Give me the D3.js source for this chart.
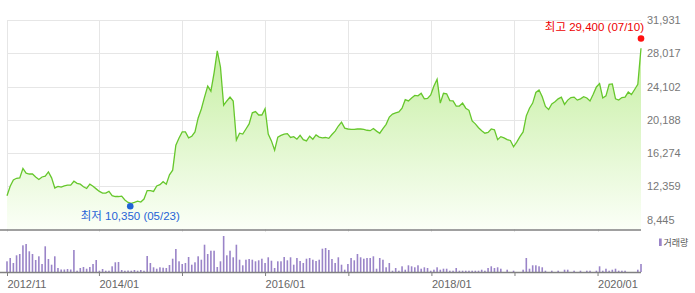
<!DOCTYPE html>
<html>
<head>
<meta charset="utf-8">
<script src="https://cdn.jsdelivr.net/npm/d3@7"></script>
<style>
  body { margin: 0; background: #fff; }
  text { font-family: "Liberation Sans", Arial, "Noto Sans CJK KR", sans-serif; }
</style>
</head>
<body>
<div class="stockChart"></div>
<script>
// Price (close) every two weeks, oldest first, last point 2020-07-10
const priceValues = [
    11250, 12350, 13100, 13300, 13350, 14450, 13900, 13800, 13800, 13450,
    13150, 13450, 13550, 14050, 13350, 12150, 12350, 12250, 12400, 12500,
    12500, 12950, 12700, 12600, 12300, 12100, 12600, 12350, 12050, 11750,
    11550, 11550, 11750, 11250, 11150, 11150, 11200, 10750, 10450, 10350,
    10450, 10600, 10500, 10850, 11850, 11850, 11750, 12400, 12550, 12900,
    12600, 13700, 14250, 17200, 18050, 18750, 18750, 18050, 18250, 18750,
    20400, 21450, 22850, 24150, 23550, 25700, 28300, 26400, 21900, 22400,
    22850, 22400, 17800, 18600, 18500, 19100, 19700, 21000, 21150, 20750,
    20750, 21500, 18500, 17700, 16600, 18150, 18350, 18500, 18550, 18100,
    18200, 17900, 18350, 17850, 17700, 18250, 17900, 18400, 18150, 18050,
    18100, 18000, 18450, 18850, 19450, 19900, 19200, 19100, 19050, 19050,
    19100, 19100, 19050, 18950, 18900, 19150, 18850, 18600, 19150, 19650,
    20500, 20850, 21000, 21100, 21550, 22550, 22400, 22750, 23050, 23000,
    23300, 22650, 22700, 23100, 24150, 24950, 22150, 23300, 23250, 22450,
    22400, 21800, 21800, 22150, 21550, 21300, 20050, 19700, 19250, 18900,
    18600, 18700, 19100, 19000, 17850, 18200, 18050, 17850, 17750, 17000,
    17550, 18200, 18750, 20650, 21550, 22150, 23400, 23700, 22900, 21750,
    21400, 22050, 22300, 22650, 22850, 22000, 22500, 22800, 22850, 22500,
    22650, 22900, 22750, 22400, 23200, 24050, 24450, 22750, 23000, 24350,
    24400, 22650, 22500, 22800, 22850, 23450, 23150, 23750, 24350, 28600
];

// Traded volume (relative units) on the same dates
const volumeValues = [
    107, 140, 90, 167, 180, 267, 280, 207, 180, 120,
    157, 80, 257, 130, 73, 157, 40, 25, 25, 30,
    25, 220, 13, 40, 50, 33, 50, 80, 120, 13,
    30, 13, 13, 57, 97, 100, 20, 13, 15, 13,
    20, 13, 20, 13, 160, 90, 47, 33, 47, 43,
    40, 70, 133, 230, 107, 80, 90, 150, 73, 97,
    157, 123, 273, 180, 213, 213, 50, 107, 360, 167,
    213, 147, 273, 123, 67, 123, 130, 123, 107, 117,
    133, 90, 147, 113, 40, 107, 107, 150, 117, 147,
    73, 140, 110, 90, 133, 140, 123, 110, 123, 233,
    240, 220, 130, 90, 147, 73, 23, 80, 140, 117,
    180, 147, 133, 140, 140, 157, 33, 140, 123, 47,
    90, 13, 40, 13, 57, 23, 67, 57, 47, 67,
    33, 47, 40, 13, 23, 47, 23, 33, 33, 13,
    13, 40, 13, 13, 13, 13, 13, 13, 13, 23,
    13, 40, 57, 40, 47, 33, 0, 23, 0, 13,
    0, 0, 23, 140, 33, 67, 67, 57, 47, 13,
    0, 13, 0, 13, 0, 23, 23, 0, 13, 0,
    13, 0, 13, 13, 0, 13, 57, 13, 33, 13,
    23, 33, 13, 13, 13, 0, 0, 0, 23, 80
];

const lastDate = "2020-07-10";
const stepDays = 14;

// Right axis ticks
const priceTicks = [8445, 12359, 16274, 20188, 24102, 28017, 31931];

// Bottom axis ticks and labels
const dateTicks = ["2012-11-23", "2014-01-01", "2015-01-01", "2016-01-01", "2017-01-01", "2018-01-01", "2019-01-01", "2020-01-01"];
const dateTickLabels = ["2012/11", "2014/01", "", "2016/01", "", "2018/01", "", "2020/01"];

// High / low markers
const highPoint = { date: "2020-07-10", value: 29400, label: "최고 29,400 (07/10)" };
const lowPoint = { date: "2014-05-23", value: 10350, label: "최저 10,350 (05/23)" };

const width = 695;
const height = 293;
const plot = { left: 7, right: 641, top: 20, bottom: 229 };
const vol = { top: 236, bottom: 272 };

const parse = d3.timeParse("%Y-%m-%d");
const end = parse(lastDate);
const data = priceValues.map((p, i) => ({
    date: d3.timeDay.offset(end, -stepDays * (priceValues.length - 1 - i)),
    price: p,
    volume: volumeValues[i]
}));

const svg = d3.select(".stockChart")
    .append("svg")
    .attr("width", width)
    .attr("height", height);

const xScale = d3.scaleTime()
    .domain(d3.extent(data, d => d.date))
    .range([plot.left, plot.right]);
const yScale = d3.scaleLinear()
    .domain([priceTicks[0], priceTicks[priceTicks.length - 1]])
    .range([219.5, plot.top]);
const vScale = d3.scaleLinear()
    .domain([0, d3.max(volumeValues)])
    .range([vol.bottom, vol.top]);

// Gradient for the area under the price line
const grad = svg.append("defs").append("linearGradient")
    .attr("id", "areaFill")
    .attr("gradientUnits", "userSpaceOnUse")
    .attr("x1", 0).attr("x2", 0)
    .attr("y1", plot.top).attr("y2", plot.bottom);
grad.append("stop").attr("offset", 0).attr("stop-color", "#bdec94");
grad.append("stop").attr("offset", 1).attr("stop-color", "#fbfff7");

// Horizontal grid
svg.append("g")
    .selectAll("line")
    .data(priceTicks)
    .join("line")
    .attr("x1", plot.left)
    .attr("x2", plot.right)
    .attr("y1", d => Math.round(yScale(d)) + 0.5)
    .attr("y2", d => Math.round(yScale(d)) + 0.5)
    .attr("stroke", "#e6e6e6");

// Vertical grid
svg.append("g")
    .selectAll("line")
    .data(dateTicks)
    .join("line")
    .attr("x1", d => Math.round(xScale(parse(d))) + 0.5)
    .attr("x2", d => Math.round(xScale(parse(d))) + 0.5)
    .attr("y1", plot.top)
    .attr("y2", plot.bottom + 3)
    .attr("stroke", "#e6e6e6");

// Price area and line
const area = d3.area()
    .x(d => xScale(d.date))
    .y0(plot.bottom)
    .y1(d => yScale(d.price));
svg.append("path")
    .datum(data)
    .attr("d", area)
    .attr("fill", "url(#areaFill)");

const line = d3.line()
    .x(d => xScale(d.date))
    .y(d => yScale(d.price));
svg.append("path")
    .datum(data)
    .attr("d", line)
    .attr("fill", "none")
    .attr("stroke", "#66c72c")
    .attr("stroke-width", 1.3);

// Right price axis labels
svg.append("g")
    .selectAll("text")
    .data(priceTicks)
    .join("text")
    .attr("x", 647)
    .attr("y", d => yScale(d) + 4)
    .text(d => d3.format(",")(d))
    .style("font-size", "11px")
    .attr("fill", "#777");

// Divider between price and volume panels
svg.append("line")
    .attr("x1", 0).attr("x2", plot.right)
    .attr("y1", plot.bottom + 1).attr("y2", plot.bottom + 1)
    .attr("stroke", "#808080")
    .attr("stroke-width", 1.5);

// Volume bars
svg.append("g")
    .selectAll("rect")
    .data(data)
    .join("rect")
    .attr("x", d => xScale(d.date) - 0.8)
    .attr("y", d => vScale(d.volume))
    .attr("width", 1.6)
    .attr("height", d => vol.bottom - vScale(d.volume))
    .attr("fill", "#9a84c8");

// Bottom date axis
const xAxis = d3.axisBottom(xScale)
    .tickValues(dateTicks.map(parse))
    .tickSize(4)
    .tickFormat((d, i) => dateTickLabels[i]);
const xAxisG = svg.append("g")
    .attr("transform", "translate(0," + vol.bottom + ")")
    .call(xAxis);
xAxisG.select(".domain").remove();
xAxisG.selectAll(".tick line").attr("stroke", "#808080");
xAxisG.selectAll(".tick text")
    .attr("text-anchor", "start")
    .attr("x", 0)
    .attr("dy", null)
    .attr("y", 15.5)
    .attr("fill", "#666")
    .style("font-size", "11px");
svg.append("line")
    .attr("x1", 0).attr("x2", plot.right)
    .attr("y1", vol.bottom + 0.5).attr("y2", vol.bottom + 0.5)
    .attr("stroke", "#808080")
    .attr("stroke-width", 1.5);

// Volume legend
svg.append("rect")
    .attr("x", 659).attr("y", 238.5)
    .attr("width", 2.7).attr("height", 7.5)
    .attr("fill", "#9a84c8");
svg.append("text")
    .attr("x", 663.5).attr("y", 246)
    .text("거래량")
    .style("font-size", "9px")
    .attr("fill", "#555");

// High marker
svg.append("circle")
    .attr("cx", xScale(parse(highPoint.date)))
    .attr("cy", yScale(highPoint.value) - 3)
    .attr("r", 3.3)
    .attr("fill", "#ff1010");
svg.append("text")
    .attr("x", xScale(parse(highPoint.date)) + 3)
    .attr("y", yScale(highPoint.value) - 10.5)
    .attr("text-anchor", "end")
    .text(highPoint.label)
    .style("font-size", "11.5px")
    .attr("fill", "#ee0000");

// Low marker
svg.append("circle")
    .attr("cx", xScale(parse(lowPoint.date)) - 1)
    .attr("cy", yScale(lowPoint.value) + 3)
    .attr("r", 3.3)
    .attr("fill", "#1f63d6");
svg.append("text")
    .attr("x", xScale(parse(lowPoint.date)) - 1)
    .attr("y", yScale(lowPoint.value) + 17)
    .attr("text-anchor", "middle")
    .text(lowPoint.label)
    .style("font-size", "11.5px")
    .attr("fill", "#1f63d6");
</script>
</body>
</html>
